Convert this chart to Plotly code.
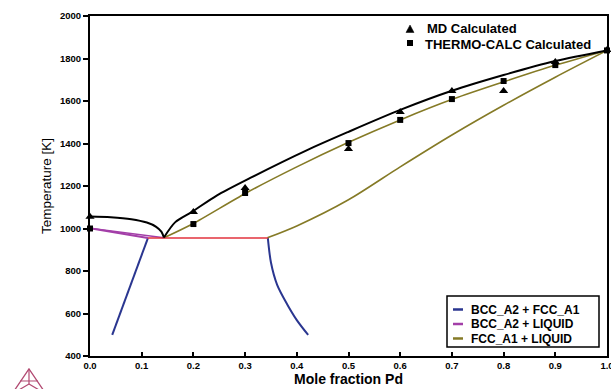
import plotly.graph_objects as go

# ---- data ----
liq_left_x = [0.0, 0.04, 0.08, 0.11, 0.128, 0.138, 0.143]
liq_left_T = [1056, 1053, 1044, 1028, 1008, 985, 958]

liq_right_x = [0.143, 0.165, 0.197, 0.245, 0.31, 0.42, 0.5, 0.6, 0.7, 0.8, 0.9, 1.0]
liq_right_T = [958, 1030, 1078, 1155, 1238, 1369, 1455, 1558, 1648, 1722, 1788, 1838]

fcc_liq_up_x = [0.143, 0.198, 0.302, 0.4, 0.497, 0.6, 0.702, 0.805, 0.901, 1.0]
fcc_liq_up_T = [956, 1021, 1167, 1290, 1402, 1511, 1609, 1694, 1769, 1838]

fcc_liq_lo_x = [0.343, 0.4, 0.5, 0.6, 0.7, 0.8, 0.9, 1.0]
fcc_liq_lo_T = [956, 1012, 1135, 1290, 1440, 1580, 1712, 1838]

bcc_liq_a_x = [0.0, 0.112]
bcc_liq_a_T = [1001, 955]
bcc_liq_b_x = [0.0, 0.143]
bcc_liq_b_T = [1001, 957]

bcc_fcc_left_x = [0.112, 0.043]
bcc_fcc_left_T = [955, 499]
bcc_fcc_right_x = [0.344, 0.35, 0.362, 0.381, 0.40, 0.422]
bcc_fcc_right_T = [955, 840, 735, 645, 569, 499]

eut_x = [0.112, 0.344]
eut_T = [955, 955]

md_x = [0.0, 0.2, 0.3, 0.5, 0.6, 0.7, 0.8, 0.9, 1.0]
md_T = [1055, 1078, 1191, 1374, 1548, 1647, 1647, 1783, 1840]

tc_x = [0.0, 0.2, 0.3, 0.5, 0.6, 0.7, 0.8, 0.9, 1.0]
tc_T = [1000, 1021, 1167, 1402, 1511, 1609, 1694, 1769, 1838]

x_ticks = [0.0, 0.1, 0.2, 0.3, 0.4, 0.5, 0.6, 0.7, 0.8, 0.9, 1.0]
y_ticks = [400, 600, 800, 1000, 1200, 1400, 1600, 1800, 2000]

marker_labels = ["MD Calculated", "THERMO-CALC Calculated"]
phase_labels = ["BCC_A2 + FCC_A1", "BCC_A2 + LIQUID", "FCC_A1 + LIQUID"]

BLUE = "#2a3690"
PURPLE = "#a33fa8"
OLIVE = "#857a26"
RED = "#e2323c"
FONT = "Liberation Sans, Arial, sans-serif"

fig = go.Figure()

def line(x, y, color, w, spline=True):
    fig.add_trace(go.Scatter(x=x, y=y, mode="lines",
                             line=dict(color=color, width=w,
                                       shape="spline" if spline else "linear",
                                       smoothing=0.8),
                             showlegend=False, hoverinfo="skip"))

line(bcc_fcc_left_x, bcc_fcc_left_T, BLUE, 2, False)
line(bcc_fcc_right_x, bcc_fcc_right_T, BLUE, 2)
line(bcc_liq_b_x, bcc_liq_b_T, PURPLE, 1.5, False)
line(bcc_liq_a_x, bcc_liq_a_T, PURPLE, 2, False)
line(fcc_liq_up_x, fcc_liq_up_T, OLIVE, 1.6)
line(fcc_liq_lo_x, fcc_liq_lo_T, OLIVE, 1.6)
line(eut_x, eut_T, RED, 1.6, False)
line(liq_left_x, liq_left_T, "black", 2)
line(liq_right_x, liq_right_T, "black", 2)

fig.add_trace(go.Scatter(x=md_x, y=md_T, mode="markers", name=marker_labels[0],
                         marker=dict(symbol="triangle-up", size=8, color="black"),
                         showlegend=False, cliponaxis=False))
fig.add_trace(go.Scatter(x=tc_x, y=tc_T, mode="markers", name=marker_labels[1],
                         marker=dict(symbol="square", size=6, color="black"),
                         showlegend=False, cliponaxis=False))

# ---- helpers for pixel -> paper coordinates (plot area 90..607 x 16..356) ----
def P(px, py):
    return ((px - 90) / 517, (356 - py) / 340)

def path(pts, close=False):
    s = "M " + " L ".join(f"{a:.4f},{b:.4f}" for a, b in pts)
    return s + (" Z" if close else "")

def text(px, py, s, size=13):
    x, y = P(px, py)
    fig.add_annotation(x=x, y=y, xref="paper", yref="paper", text=s, showarrow=False,
                       xanchor="left", yanchor="middle", borderpad=0,
                       font=dict(size=size, family=FONT, weight="bold", color="black"))

# ---- marker legend (top) ----
tri = [P(410, 25), P(406, 32.5), P(414, 32.5)]
fig.add_shape(type="path", xref="paper", yref="paper", path=path(tri, True),
              fillcolor="black", line=dict(color="black", width=0.5))
x0, y0 = P(407, 40); x1, y1 = P(413, 46)
fig.add_shape(type="rect", xref="paper", yref="paper", x0=x0, y0=y0, x1=x1, y1=y1,
              fillcolor="black", line=dict(width=0))
text(426, 28.5, marker_labels[0])
text(424, 44, marker_labels[1])

# ---- phase legend (bottom right) ----
x0, y0 = P(447, 296); x1, y1 = P(599, 347)
fig.add_shape(type="rect", xref="paper", yref="paper", x0=x0, y0=y0, x1=x1, y1=y1,
              fillcolor="white", line=dict(color="black", width=1.5))
for i, (lab, c) in enumerate(zip(phase_labels, [BLUE, PURPLE, OLIVE])):
    yy = 309.5 + i * 14.5
    fig.add_shape(type="path", xref="paper", yref="paper",
                  path=path([P(453, yy), P(463, yy)]), line=dict(color=c, width=2.5))
    text(470, yy, lab, size=12)

# ---- Thermo-Calc logo ----
logo_col = "#b24a72"
top = P(29, 369); bl = P(12, 394); br = P(46, 394); ctr = P(29, 384)
fig.add_shape(type="path", xref="paper", yref="paper", path=path([top, bl, br], True),
              line=dict(color=logo_col, width=1.3))
for p in [bl, br, top]:
    fig.add_shape(type="path", xref="paper", yref="paper", path=path([ctr, p]),
                  line=dict(color=logo_col, width=1.2))
fig.add_shape(type="path", xref="paper", yref="paper",
              path=path([P(20, 381), P(38, 381)]), line=dict(color=logo_col, width=1))

fig.update_layout(
    width=611, height=389,
    margin=dict(l=90, r=4, t=16, b=33, autoexpand=False),
    paper_bgcolor="white", plot_bgcolor="white",
    font=dict(family=FONT, color="black"),
    showlegend=False,
    xaxis=dict(range=[0, 1], tickvals=x_ticks, tickformat=".1f",
               ticks="inside", ticklen=4, tickwidth=1.5, tickcolor="black",
               showline=True, linecolor="black", linewidth=2, mirror=True,
               showgrid=False, zeroline=False, ticklabeloverflow="allow",
               automargin=False,
               tickfont=dict(size=9.5, family=FONT, weight="bold"),
               title=dict(text="Mole fraction Pd", standoff=1,
                          font=dict(size=14, family=FONT, weight="bold"))),
    yaxis=dict(range=[400, 2000], tickvals=y_ticks,
               ticks="outside", ticklen=5, tickwidth=1.5, tickcolor="black",
               showline=True, linecolor="black", linewidth=2, mirror=True,
               showgrid=False, zeroline=False, automargin=False,
               tickfont=dict(size=9.5, family=FONT, weight="bold"),
               title=dict(text="Temperature [K]", standoff=5,
                          font=dict(size=13.5, family=FONT))),
)

fig.write_html("out.html")
